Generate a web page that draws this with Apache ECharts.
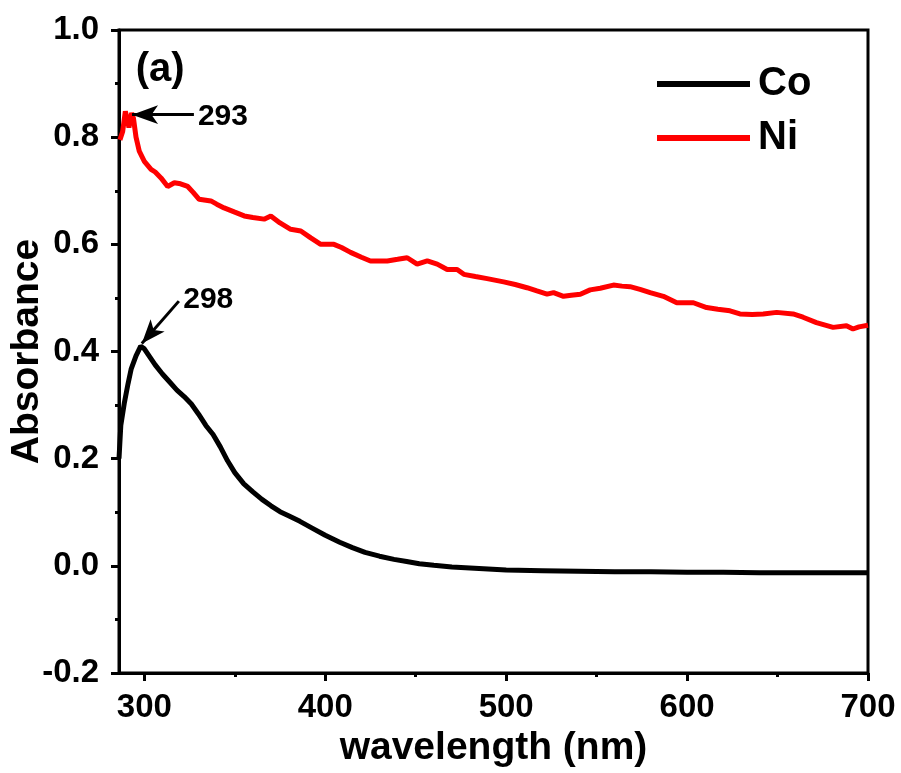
<!DOCTYPE html>
<html>
<head>
<meta charset="utf-8">
<script src="https://cdn.jsdelivr.net/npm/echarts@6/dist/echarts.min.js"></script>
<style>
  html, body { margin: 0; padding: 0; background: #fff; }
  #chart { width: 901px; height: 773px; }
</style>
</head>
<body>
<div id="chart"></div>
<script>
// wavelength (nm) / absorbance
const coWave = [286, 287, 289, 291, 292.7, 295.4, 298, 300, 303, 306, 310, 314, 318, 322, 326, 330, 334, 338, 342, 346, 350, 355, 360, 365, 370, 375, 380, 386, 393, 400, 408, 415, 422, 430, 438, 445, 452, 460, 470, 480, 490, 500, 520, 540, 560, 580, 600, 620, 640, 660, 680, 700];
const coAbs = [0.20, 0.262, 0.305, 0.34, 0.367, 0.392, 0.41, 0.405, 0.39, 0.375, 0.358, 0.343, 0.328, 0.316, 0.302, 0.283, 0.262, 0.245, 0.222, 0.196, 0.174, 0.153, 0.138, 0.124, 0.112, 0.101, 0.093, 0.083, 0.070, 0.057, 0.044, 0.034, 0.025, 0.018, 0.012, 0.008, 0.004, 0.001, -0.002, -0.004, -0.006, -0.008, -0.009, -0.010, -0.011, -0.011, -0.012, -0.012, -0.013, -0.013, -0.013, -0.013];

const niWave = [286.5, 288, 289.5, 290.5, 291.5, 293, 294, 295.4, 297.2, 300, 303.7, 306, 309.2, 312.9, 316.6, 320, 324, 327, 330.3, 336.8, 340, 344.1, 350, 355.2, 360, 366.2, 369.9, 375, 380.9, 386.5, 392, 397.5, 404.8, 409, 414, 420, 425, 434.3, 440, 445.3, 450.8, 456.4, 461.9, 467.4, 472.9, 476.6, 483, 489.5, 498.6, 505, 511.5, 517, 522.6, 526.2, 531.7, 536, 541, 546.4, 552, 559.3, 564, 568.5, 574, 579.6, 586.9, 594.3, 603.5, 610.8, 617, 623.7, 629.2, 636, 642.1, 649.5, 658.6, 664.1, 671.5, 680.7, 688.1, 691.7, 695, 700];
const niAbs = [0.795, 0.81, 0.848, 0.835, 0.818, 0.845, 0.835, 0.80, 0.774, 0.755, 0.74, 0.735, 0.724, 0.708, 0.715, 0.713, 0.708, 0.697, 0.684, 0.681, 0.675, 0.668, 0.66, 0.653, 0.65, 0.647, 0.653, 0.64, 0.628, 0.625, 0.612, 0.60, 0.60, 0.594, 0.585, 0.576, 0.569, 0.569, 0.572, 0.575, 0.563, 0.569, 0.563, 0.553, 0.553, 0.544, 0.54, 0.536, 0.53, 0.525, 0.519, 0.513, 0.507, 0.51, 0.503, 0.505, 0.507, 0.515, 0.518, 0.524, 0.522, 0.521, 0.516, 0.51, 0.503, 0.491, 0.491, 0.482, 0.479, 0.476, 0.47, 0.469, 0.47, 0.473, 0.47, 0.464, 0.454, 0.445, 0.448, 0.442, 0.446, 0.449];

const xMajor = [300, 400, 500, 600, 700];
const xMinor = [350, 450, 550, 650];

const FONT = 'Liberation Sans, Arial, sans-serif';

const chart = echarts.init(document.getElementById('chart'));

const pairs = (xs, ys) => xs.map((x, i) => [x, ys[i]]);

const arrowStyle = { color: '#000', width: 3, type: 'solid' };

const option = {
  animation: false,
  backgroundColor: '#fff',
  grid: {
    left: 118, right: 33, top: 30, bottom: 98,
    show: true, borderColor: '#000', borderWidth: 3
  },
  legend: {
    orient: 'vertical',
    left: 652, top: 59,
    itemWidth: 93, itemHeight: 6, itemGap: 14,
    icon: 'rect',
    textStyle: { fontFamily: FONT, fontWeight: 'bold', fontSize: 40, color: '#000', padding: [0, 0, 0, 3] },
    data: ['Co', 'Ni']
  },
  xAxis: [{
    type: 'value', min: 286, max: 700,
    position: 'bottom',
    name: 'wavelength (nm)', nameLocation: 'middle', nameGap: 56, nameMoveOverlap: false,
    nameTextStyle: { fontFamily: FONT, fontWeight: 'bold', fontSize: 39, color: '#000' },
    axisLine: { onZero: false, lineStyle: { color: '#000', width: 3 } },
    axisTick: { show: true, customValues: xMajor, length: 8, lineStyle: { color: '#000', width: 3 } },
    axisLabel: { customValues: xMajor, margin: 18, fontFamily: FONT, fontWeight: 'bold', fontSize: 33, color: '#000' },
    splitLine: { show: false }
  }, {
    // minor ticks only
    type: 'value', min: 286, max: 700,
    position: 'bottom',
    axisLine: { show: false, onZero: false },
    axisTick: { show: true, customValues: xMinor, length: 4, lineStyle: { color: '#000', width: 3 } },
    axisLabel: { show: false },
    splitLine: { show: false }
  }],
  yAxis: {
    type: 'value', min: -0.2, max: 1.0, interval: 0.2,
    name: 'Absorbance', nameLocation: 'middle', nameGap: 72, nameMoveOverlap: false,
    nameTextStyle: { fontFamily: FONT, fontWeight: 'bold', fontSize: 39, color: '#000' },
    axisLine: { show: true, lineStyle: { color: '#000', width: 3 } },
    axisTick: { show: true, length: 8, lineStyle: { color: '#000', width: 3 } },
    minorTick: { show: true, splitNumber: 2, length: 4, lineStyle: { color: '#000', width: 3 } },
    axisLabel: { margin: 20, fontFamily: FONT, fontWeight: 'bold', fontSize: 33, color: '#000',
      formatter: v => v.toFixed(1) },
    splitLine: { show: false },
    minorSplitLine: { show: false }
  },
  series: [{
    name: 'Co', type: 'line', xAxisIndex: 0,
    data: pairs(coWave, coAbs),
    showSymbol: false, symbol: 'none',
    lineStyle: { color: '#000', width: 5 },
    itemStyle: { color: '#000' },
    markLine: {
      silent: true, symbol: ['none', 'arrow'], symbolSize: [14, 24],
      lineStyle: arrowStyle, label: { show: false },
      data: [[{ coord: [319.1, 0.494] }, { coord: [298.6, 0.415] }]]
    },
    markPoint: {
      silent: true, symbol: 'circle', symbolSize: 0,
      label: { show: true, position: 'right', distance: 0, fontFamily: FONT, fontWeight: 'bold', color: '#000' },
      data: [
        { coord: [321.5, 0.497], value: '298', label: { fontSize: 30, formatter: '298' } },
        { coord: [295.2, 0.926], value: '(a)', label: { fontSize: 40, formatter: '(a)' } }
      ]
    }
  }, {
    name: 'Ni', type: 'line', xAxisIndex: 0,
    data: pairs(niWave, niAbs),
    showSymbol: false, symbol: 'none',
    lineStyle: { color: '#ff0000', width: 5 },
    itemStyle: { color: '#ff0000' },
    markLine: {
      silent: true, symbol: ['none', 'arrow'], symbolSize: [14, 26],
      lineStyle: arrowStyle, label: { show: false },
      data: [[{ coord: [327.4, 0.842] }, { coord: [293.2, 0.842] }]]
    },
    markPoint: {
      silent: true, symbol: 'circle', symbolSize: 0,
      label: { show: true, position: 'right', distance: 0, fontFamily: FONT, fontWeight: 'bold', color: '#000' },
      data: [
        { coord: [329.6, 0.838], value: '293', label: { fontSize: 30, formatter: '293' } }
      ]
    }
  }]
};

chart.setOption(option);
</script>
</body>
</html>
